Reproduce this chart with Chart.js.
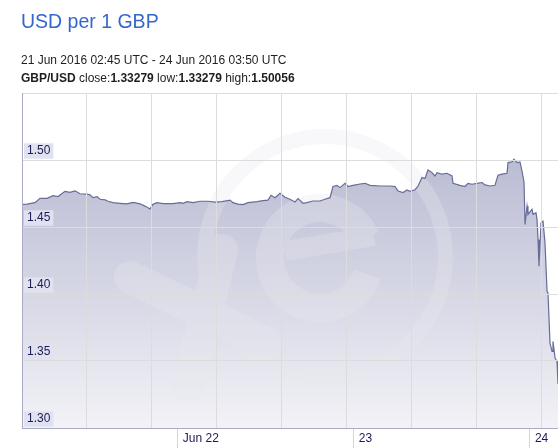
<!DOCTYPE html>
<html>
<head>
<meta charset="utf-8">
<script src="https://cdn.jsdelivr.net/npm/chart.js@4.4.1/dist/chart.umd.min.js"></script>
<style>
  html, body { margin: 0; padding: 0; background: #fff; }
  body { width: 558px; height: 448px; position: relative; overflow: hidden; font-family: "Liberation Sans", Arial, sans-serif; }
  #chart { position: absolute; left: 0; top: 0; }
  .txt { position: absolute; left: 21px; line-height: 1; white-space: nowrap; z-index: 2; }
  #title { top: 12px; font-size: 19.5px; color: #3467cc; }
  #range { top: 54px; font-size: 12px; color: #1e1e1e; }
  #stats { top: 72px; font-size: 12px; color: #1e1e1e; }
</style>
</head>
<body>
<div class="txt" id="title">USD per 1 GBP</div>
<div class="txt" id="range">21 Jun 2016 02:45 UTC - 24 Jun 2016 03:50 UTC</div>
<div class="txt" id="stats"><b>GBP/USD</b> close:<b>1.33279</b> low:<b>1.33279</b> high:<b>1.50056</b></div>
<canvas id="chart" width="558" height="448"></canvas>
<script>
// hours since 21 Jun 2016 02:45 UTC
const hours = [0.00, 0.68, 1.77, 2.45, 3.41, 4.23, 4.91, 5.86, 6.54, 7.23, 7.91, 8.86, 9.27, 9.68, 10.23, 10.64,
  11.32, 11.73, 12.41, 13.36, 14.32, 15.14, 16.09, 16.77, 17.45, 17.86, 18.41, 19.23, 20.59, 21.54, 21.95, 22.50,
  23.32, 24.27, 25.36, 26.32, 27.27, 28.36, 28.77, 29.45, 30.13, 30.82, 32.04, 32.86, 33.54, 33.95, 34.50, 35.18,
  35.86, 36.54, 37.22, 37.63, 38.31, 38.86, 39.68, 40.63, 41.31, 42.00, 42.40, 42.95, 43.36, 44.04, 44.45, 45.13,
  46.09, 46.77, 47.45, 48.81, 50.18, 50.86, 51.27, 51.95, 52.50, 52.90, 53.59, 54.00, 54.54, 54.95, 55.36, 55.90,
  56.31, 56.59, 57.27, 57.95, 58.63, 58.77, 59.72, 60.40, 60.81, 61.36, 62.04, 62.72, 63.13, 63.81, 64.49, 64.90,
  65.45, 66.13, 66.27, 66.81, 67.08, 67.49, 67.90, 68.18, 68.45, 68.59, 68.86, 68.99, 69.54, 69.68, 70.08, 70.22,
  70.36, 70.49, 70.77, 71.04, 71.31, 71.59, 71.72, 71.99, 72.27, 72.40, 72.68, 72.95, 73.08];
const rates = [1.4669, 1.4671, 1.4682, 1.4714, 1.4714, 1.4734, 1.4727, 1.4766, 1.4759, 1.4770, 1.4748, 1.4746, 1.4740, 1.4719, 1.4727, 1.4707,
  1.4703, 1.4692, 1.4682, 1.4677, 1.4673, 1.4684, 1.4673, 1.4656, 1.4635, 1.4669, 1.4682, 1.4674, 1.4674, 1.4682, 1.4677, 1.4689,
  1.4682, 1.4692, 1.4692, 1.4686, 1.4689, 1.4701, 1.4682, 1.4671, 1.4667, 1.4682, 1.4689, 1.4697, 1.4701, 1.4737, 1.4719, 1.4751,
  1.4722, 1.4707, 1.4686, 1.4712, 1.4677, 1.4682, 1.4694, 1.4694, 1.4707, 1.4719, 1.4802, 1.4811, 1.4794, 1.4826, 1.4802, 1.4811,
  1.4821, 1.4826, 1.4811, 1.4806, 1.4806, 1.4802, 1.4769, 1.4757, 1.4776, 1.4766, 1.4778, 1.4804, 1.4869, 1.4862, 1.4926, 1.4906,
  1.4881, 1.4906, 1.4894, 1.4901, 1.4881, 1.4826, 1.4811, 1.4802, 1.4826, 1.4819, 1.4826, 1.4832, 1.4814, 1.4806, 1.4811, 1.4886,
  1.4894, 1.4901, 1.4981, 1.4986, 1.5006, 1.4981, 1.4986, 1.4916, 1.4836, 1.4519, 1.4656, 1.4594, 1.4632, 1.4594, 1.4607, 1.4557,
  1.4407, 1.4207, 1.4532, 1.4544, 1.4382, 1.4020, 1.4008, 1.3634, 1.3571, 1.3646, 1.3522, 1.3496, 1.3328];

// day boundaries (00:00 UTC) and their labels
const dayTickHours = [21.25, 45.25, 69.25];
const dayTickLabels = ['Jun 22', '23', '24'];

const yMin = 1.30, yMax = 1.55, yStep = 0.05;
const xMax = 73.0833;
const gridStepHours = 8.8627;

const navy = '#1b1b55';
const gridGray = '#dcdcdc';
const axisLavender = '#a9abc9';

// faint "xe" watermark, drawn between the fill and the line
const watermark = {
  id: 'xeMark',
  beforeDatasetDraw(chart) {
    const {ctx, chartArea: a} = chart;
    const off = document.createElement('canvas');
    off.width = chart.width; off.height = chart.height;
    const o = off.getContext('2d');
    o.strokeStyle = 'rgb(232,232,238)';
    o.lineWidth = 15;
    o.beginPath(); o.arc(325, 257, 120.5, 0, Math.PI * 2); o.stroke();
    o.lineCap = 'round';
    o.lineWidth = 32;
    o.beginPath(); o.moveTo(188, 386); o.lineTo(222, 250); o.stroke();
    o.beginPath(); o.moveTo(130, 277); o.lineTo(266, 343); o.stroke();
    o.lineCap = 'butt';
    o.lineWidth = 28;
    o.beginPath(); o.arc(320, 258, 50, 19 * Math.PI / 180, 336 * Math.PI / 180); o.stroke();
    o.lineWidth = 20;
    o.beginPath(); o.moveTo(285, 251); o.lineTo(374, 236); o.stroke();
    ctx.save();
    ctx.beginPath(); ctx.rect(a.left, a.top, a.right - a.left, a.bottom - a.top); ctx.clip();
    ctx.globalAlpha = 0.33;
    ctx.drawImage(off, 0, 0);
    ctx.restore();
  }
};

const isDayTick = v => dayTickHours.some(d => Math.abs(d - v) < 1e-6);

new Chart(document.getElementById('chart'), {
  type: 'line',
  data: {
    datasets: [{
      data: hours.map((h, i) => ({x: h, y: rates[i]})),
      borderColor: '#686c98',
      borderWidth: 1.2,
      pointRadius: 0,
      tension: 0,
      fill: 'start',
      backgroundColor: (c) => {
        const a = c.chart.chartArea;
        if (!a) return 'rgba(0,0,0,0)';
        const g = c.chart.ctx.createLinearGradient(0, a.top, 0, a.bottom);
        g.addColorStop(0, '#adafca');
        g.addColorStop(1, '#f2f2f7');
        return g;
      }
    }]
  },
  options: {
    responsive: false,
    animation: false,
    layout: { padding: { left: 22, top: 93, right: 0, bottom: 0 } },
    plugins: { legend: { display: false }, tooltip: { enabled: false } },
    scales: {
      x: {
        type: 'linear',
        min: 0,
        max: xMax,
        afterBuildTicks: (s) => {
          const vals = [];
          for (let v = 0; v < xMax; v += gridStepHours) vals.push(v);
          dayTickHours.forEach(d => vals.push(d));
          vals.sort((a, b) => a - b);
          s.ticks = vals.map(v => ({value: v}));
        },
        afterFit: (s) => { s.height = 20; s.paddingLeft = 0; s.paddingRight = 0; },
        border: { color: axisLavender, z: 2 },
        grid: {
          z: 1,
          color: (c) => (c.tick && !isDayTick(c.tick.value) && c.tick.value > 0.01) ? gridGray : 'rgba(0,0,0,0)',
          tickColor: (c) => (c.tick && isDayTick(c.tick.value)) ? '#d4d4dc' : 'rgba(0,0,0,0)',
          tickLength: 20,
          drawTicks: true
        },
        ticks: {
          z: 2,
          autoSkip: false,
          maxRotation: 0,
          align: 'start',
          labelOffset: 5,
          padding: -17,
          color: navy,
          font: { family: '"Liberation Sans", Arial, sans-serif', size: 12 },
          callback: (v) => {
            const i = dayTickHours.findIndex(d => Math.abs(d - v) < 1e-6);
            return i >= 0 ? dayTickLabels[i] : '';
          }
        }
      },
      y: {
        min: yMin,
        max: yMax,
        afterFit: (s) => { s.width = 0; },
        border: { color: axisLavender, z: 2 },
        grid: {
          z: 1,
          color: (c) => (c.tick && c.tick.value > yMin + 0.001) ? gridGray : 'rgba(0,0,0,0)',
          drawTicks: false
        },
        ticks: {
          z: 2,
          stepSize: yStep,
          mirror: true,
          padding: 5,
          labelOffset: -9,
          color: navy,
          font: { family: '"Liberation Sans", Arial, sans-serif', size: 12 },
          showLabelBackdrop: true,
          backdropColor: (c) => (c.tick && c.tick.value < yMax - 0.001) ? '#e1e2ef' : 'rgba(0,0,0,0)',
          backdropPadding: { left: 3, right: 3, top: 0.5, bottom: 0.5 },
          callback: (v) => (v < yMax - 0.001) ? v.toFixed(2) : ''
        }
      }
    }
  },
  plugins: [watermark]
});
</script>
</body>
</html>
